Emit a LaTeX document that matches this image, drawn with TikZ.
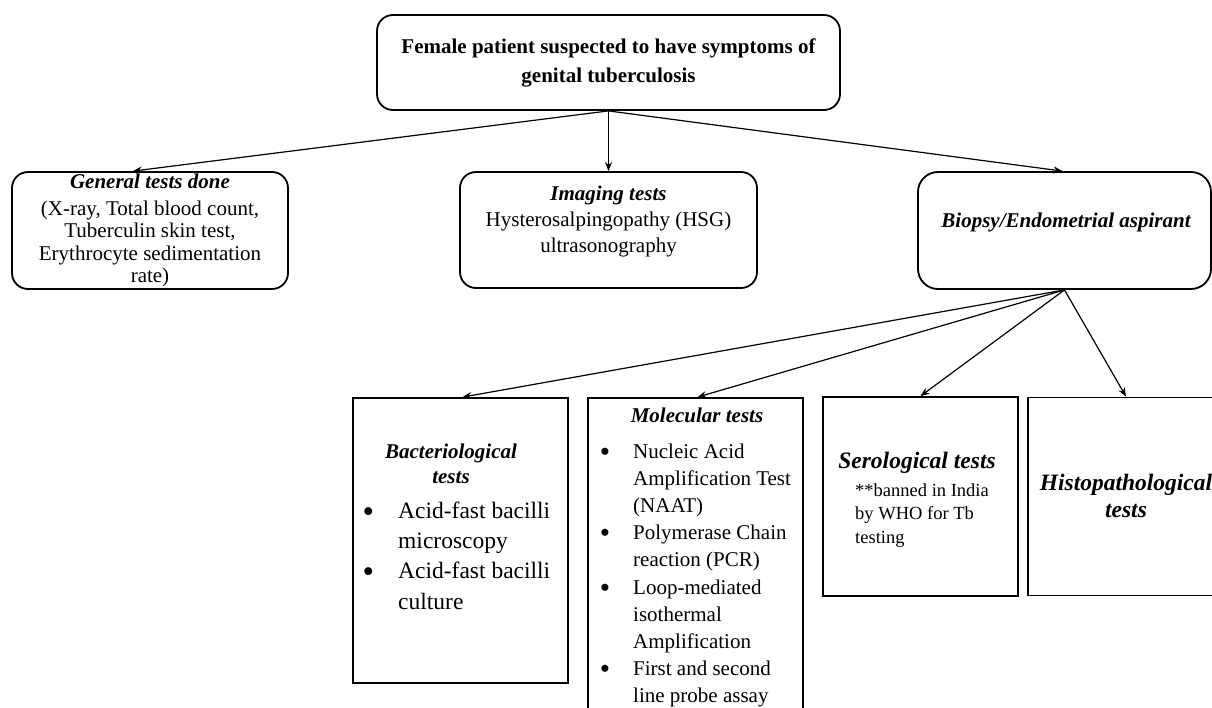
\documentclass[tikz,border=0pt]{standalone}
\usepackage{fontspec}
\usepackage{graphicx}
\setmainfont{Liberation Serif}
\usetikzlibrary{arrows.meta}
\newcommand\fsa{\fontsize{21}{27}\selectfont}
\newcommand\blt[2]{\llap{\raisebox{-#2}{\scalebox{1.4}{\textbullet}}\hspace{#1}}}
\tikzset{
  box/.style={draw, line width=1.8pt, inner sep=0pt},
  rbox/.style={box, rounded corners=16pt},
  txt/.style={inner sep=0pt, anchor=base, align=center},
  ltxt/.style={inner sep=0pt, anchor=base west, align=left},
  arr/.style={line width=1.2pt, -{Stealth[length=9pt,width=7pt]}}
}
\begin{document}
\begin{tikzpicture}[x=1pt,y=-1pt]
\useasboundingbox (0,0) rectangle (1212,707);
\clip (0,0) rectangle (1212,707);
\fill[white] (0,0) rectangle (1212,707);
% boxes
\node[rbox, minimum width=463pt, minimum height=95pt] (top) at (608.5,62.5) {};
\node[rbox, minimum width=276pt, minimum height=117pt] (gen) at (150,230.5) {};
\node[rbox, minimum width=297pt, minimum height=116pt] (img) at (608.5,230) {};
\node[rbox, rounded corners=20pt, minimum width=293pt, minimum height=117pt] (bio) at (1064.5,230.5) {};
\node[box, minimum width=215pt, minimum height=285pt] (bact) at (460.5,540.5) {};
\node[box, minimum width=215pt, minimum height=330pt] (mol) at (695.5,563) {};
\node[box, minimum width=195pt, minimum height=199pt] (sero) at (920.5,496.5) {};
\node[box, minimum width=196pt, minimum height=198pt] (histo) at (1126,496.5) {};
% texts (multi-line nodes: base = baseline of last line)
\node[txt, font=\fontsize{21}{29}\selectfont\bfseries] (toptxt) at (608.5,82)
  {Female patient suspected to have symptoms of\\genital tuberculosis};
\node[txt, font=\fsa\bfseries\itshape] (gentitle) at (150,188) {General tests done};
\node[txt, font=\fontsize{21}{22.5}\selectfont] (gentxt) at (150,282.5)
  {(X-ray, Total blood count,\\Tuberculin skin test,\\Erythrocyte sedimentation\\rate)};
\node[txt, font=\fontsize{21}{26}\selectfont] (imgtxt) at (608.5,252)
  {\textbf{\textit{Imaging tests}}\\Hysterosalpingopathy (HSG)\\ultrasonography};
\node[txt, font=\fsa\bfseries\itshape] (biotxt) at (1066,227) {Biopsy/Endometrial aspirant};
\node[txt, font=\fontsize{21}{25}\selectfont\bfseries\itshape] (bacttitle) at (451,483)
  {Bacteriological\\tests};
\node[ltxt, font=\fontsize{23.5}{30.3}\selectfont] (bactlist) at (398,609)
  {\blt{24pt}{4pt}Acid-fast bacilli\\microscopy\\\blt{24pt}{4pt}Acid-fast bacilli\\culture};
\node[txt, font=\fsa\bfseries\itshape] (moltitle) at (697,422) {Molecular tests};
\node[ltxt, font=\fontsize{21}{27.2}\selectfont] (mollist) at (633,702.8)
  {\blt{23pt}{3pt}Nucleic Acid\\Amplification Test\\(NAAT)\\\blt{23pt}{3pt}Polymerase Chain\\reaction (PCR)\\\blt{23pt}{3pt}Loop-mediated\\isothermal\\Amplification\\\blt{23pt}{3pt}First and second\\line probe assay};
\node[txt, font=\fontsize{23.5}{28}\selectfont\bfseries\itshape] (serotitle) at (917,468) {Serological tests};
\node[ltxt, font=\fontsize{18.5}{23.5}\selectfont] (serotxt) at (855,543)
  {**banned in India\\by WHO for Tb\\testing};
\node[txt, font=\fontsize{23.5}{27}\selectfont\bfseries\itshape] (histotxt) at (1126,517)
  {Histopathological\\tests};
% connectors
\draw[arr] (top.south) -- ([xshift=-17pt]gen.north);
\draw[arr] (top.south) -- (img.north);
\draw[arr] (top.south) -- ([xshift=-2pt]bio.north);
\draw[arr] (bio.south) -- ([xshift=2pt]bact.north);
\draw[arr] (bio.south) -- ([xshift=2pt]mol.north);
\draw[arr] (bio.south) -- (sero.north);
\draw[arr] (bio.south) -- (histo.north);
\end{tikzpicture}
\end{document}
